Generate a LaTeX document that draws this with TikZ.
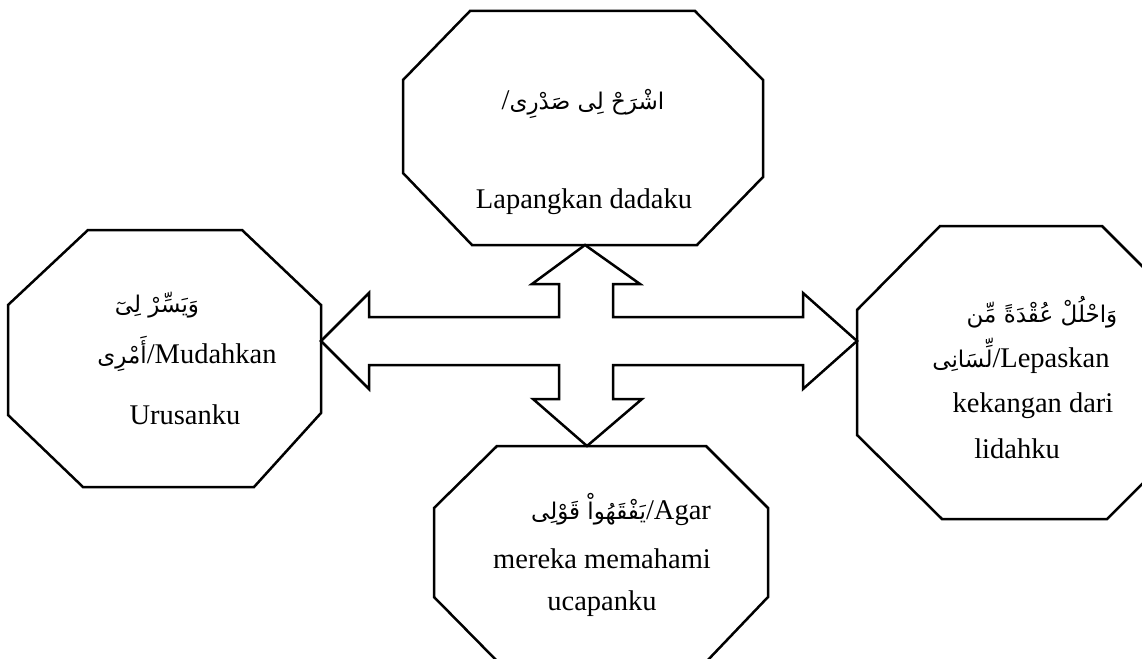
\documentclass[tikz,border=0pt]{standalone}
\usepackage{fontspec}
\setmainfont{Liberation Serif}
\newfontfamily\arabicfont[Script=Arabic]{DejaVu Sans}
\TeXXeTstate=1
\newcommand{\arsz}{\fontsize{23}{30}\selectfont\arabicfont}
\begin{document}
\begin{tikzpicture}[x=1pt,y=-1pt,
  octo/.style={draw=black,line width=2.5pt,line join=miter},
  cross/.style={draw=black,line width=2.5pt,line join=miter,fill=white},
  lbl/.style={font=\fontsize{28.5}{34}\selectfont,inner sep=0pt,anchor=base}]
\useasboundingbox (0,0) rectangle (1142,658);
\clip (0,0) rectangle (1142,658);
\fill[white] (0,0) rectangle (1142,658);

% octagons
\draw[octo] (470,11) -- (695,11) -- (763,80) -- (763,177) -- (697,245) -- (472,245) -- (403,173) -- (403,80) -- cycle;
\draw[octo] (88,230) -- (242,230) -- (321,305) -- (321,413) -- (254,487) -- (83,487) -- (8,415) -- (8,305) -- cycle;
\draw[octo] (940,226) -- (1102,226) -- (1148,272) -- (1148,478) -- (1107,519) -- (942,519) -- (857,435) -- (857,310) -- cycle;
\draw[octo] (497,446) -- (706,446) -- (768,508) -- (768,597) -- (706,662) -- (498,662) -- (434,597) -- (434,508) -- cycle;

% arrow tips on the octagons
\coordinate (topT) at (585,245);
\coordinate (botT) at (587,446);
\coordinate (lefT) at (321,341);
\coordinate (rigT) at (857,341);

% four-way arrow
\draw[cross] (topT) -- (640,284) -- (613,284) -- (613,317) -- (803,317) -- (803,293) -- (rigT)
  -- (803,389) -- (803,365) -- (613,365) -- (613,399) -- (642,399) -- (botT)
  -- (533,399) -- (559,399) -- (559,365) -- (369,365) -- (369,389) -- (lefT)
  -- (369,293) -- (369,317) -- (559,317) -- (559,284) -- (532,284) -- cycle;

% top texts
\node[lbl] (t1) at (583,110) {/{\arsz\beginR اشْرَحْ لِى صَدْرِى\endR}};
\node[lbl] (t2) at (584,208) {Lapangkan dadaku};

% left texts
\node[lbl] (l1) at (157,312) {{\arsz\beginR وَيَسِّرْ لِىٓ\endR}};
\node[lbl] (l2) at (187,363) {{\arsz\beginR أَمْرِى\endR}/Mudahkan};
\node[lbl] (l3) at (185,424) {Urusanku};

% right texts
\node[lbl] (r1) at (1042,322) {{\arsz\beginR وَاحْلُلْ عُقْدَةً مِّن\endR}};
\node[lbl] (r2) at (1021,367) {{\arsz\beginR لِّسَانِى\endR}/Lepaskan};
\node[lbl] (r3) at (1033,412) {kekangan dari};
\node[lbl] (r4) at (1017,458) {lidahku};

% bottom texts
\node[lbl] (b1) at (621,519) {{\arsz\beginR يَفْقَهُواْ قَوْلِى\endR}/Agar};
\node[lbl] (b2) at (602,568) {mereka memahami};
\node[lbl] (b3) at (602,610) {ucapanku};
\end{tikzpicture}
\end{document}
